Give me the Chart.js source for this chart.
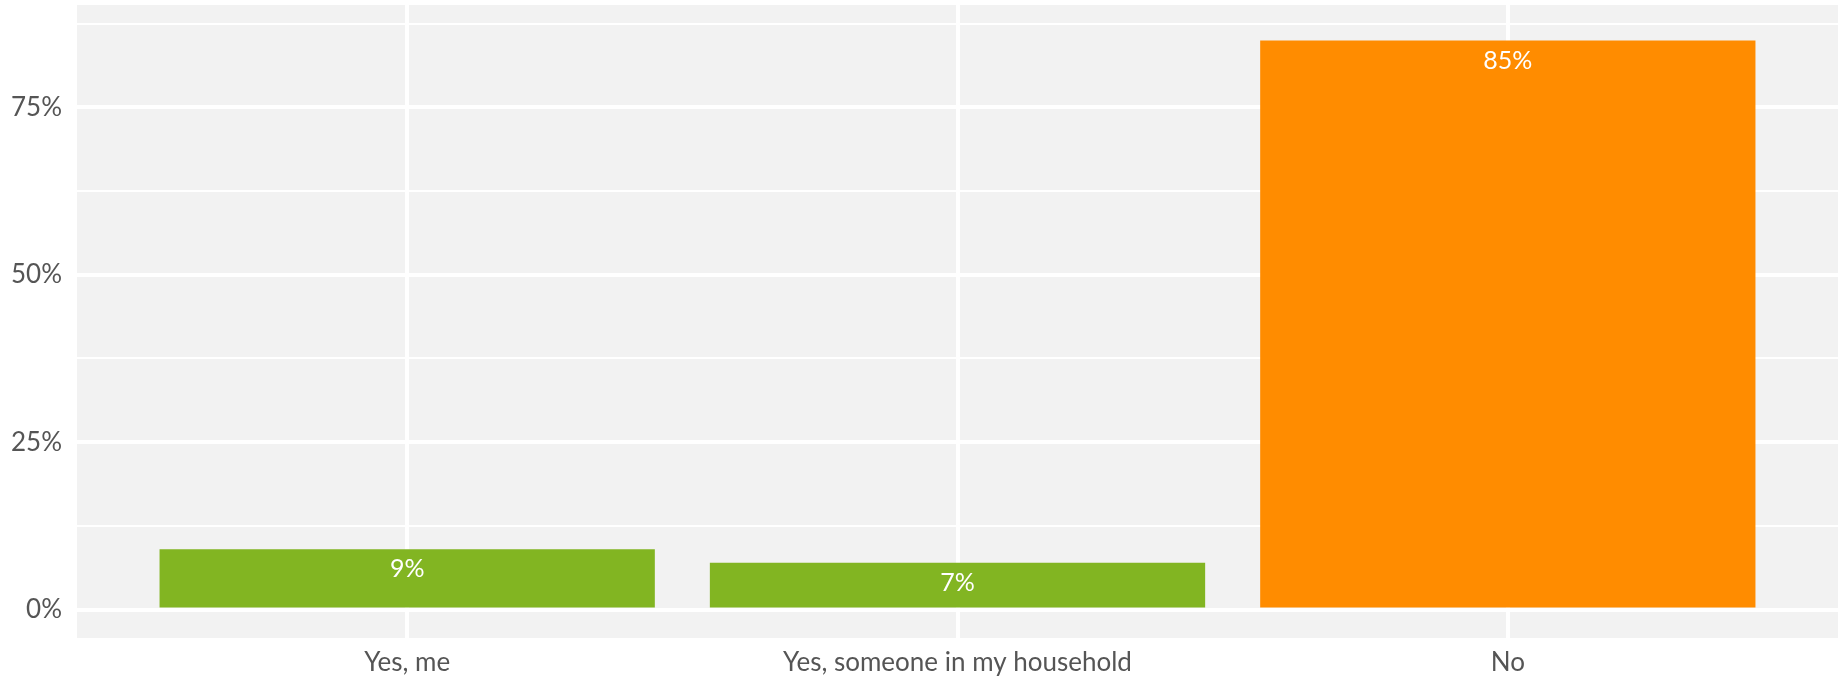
<!DOCTYPE html>
<html>
<head>
<meta charset="utf-8">
<script src="https://cdn.jsdelivr.net/npm/chart.js@4.4.1/dist/chart.umd.min.js"></script>
<style>
  html, body { margin: 0; padding: 0; background: #fff; }
  #wrap { width: 1843px; height: 679px; }
</style>
</head>
<body>
<div id="wrap"><canvas id="answerChart"></canvas></div>
<script>
const categories = ['Yes, me', 'Yes, someone in my household', 'No'];
const shares = [9, 7, 85];
const barColors = ['#82b522', '#82b522', '#ff8c00'];
const gridValues = [0, 12.5, 25, 37.5, 50, 62.5, 75, 87.5];
const labelledValues = [0, 25, 50, 75];

// grey panel behind the plot, ggplot style
const panelBg = {
  id: 'panelBg',
  beforeDraw(chart) {
    const { ctx, chartArea: a } = chart;
    ctx.save();
    ctx.fillStyle = '#f2f2f2';
    ctx.fillRect(a.left, a.top, a.right - a.left, a.bottom - a.top);
    ctx.restore();
  }
};

// white percentage labels just inside the bar tops
const barLabels = {
  id: 'barLabels',
  afterDatasetsDraw(chart) {
    const ctx = chart.ctx;
    const meta = chart.getDatasetMeta(0);
    ctx.save();
    ctx.fillStyle = '#ffffff';
    ctx.font = '400 25px Lato';
    ctx.textAlign = 'center';
    ctx.textBaseline = 'middle';
    meta.data.forEach((bar, i) => {
      ctx.fillText(shares[i] + '%', bar.x, bar.y + 20);
    });
    ctx.restore();
  }
};

const ctx = document.getElementById('answerChart').getContext('2d');

new Chart(ctx, {
  type: 'bar',
  data: {
    datasets: [{
      data: shares.map((v, i) => ({ x: i + 1, y: v })),
      backgroundColor: barColors,
      borderWidth: 0,
      categoryPercentage: 0.9,
      barPercentage: 1
    }]
  },
  options: {
    responsive: true,
    maintainAspectRatio: false,
    animation: false,
    layout: { padding: { top: 5, right: 5, left: 0, bottom: 0 } },
    plugins: {
      legend: { display: false },
      tooltip: { enabled: false }
    },
    scales: {
      x: {
        type: 'linear',
        min: 0.4,
        max: 3.6,
        offset: false,
        afterBuildTicks(scale) {
          scale.ticks = categories.map((c, i) => ({ value: i + 1 }));
        },
        afterFit(scale) {
          scale.height = 41;
          scale.paddingLeft = 0;
          scale.paddingRight = 0;
        },
        grid: { color: '#ffffff', lineWidth: 4, drawTicks: false, offset: false },
        border: { display: false },
        ticks: {
          autoSkip: false,
          maxRotation: 0,
          padding: 9,
          color: '#555555',
          font: { family: 'Lato', size: 26 },
          callback: (v) => categories[v - 1] || ''
        }
      },
      y: {
        min: -4.25,
        max: 90.3,
        afterBuildTicks(scale) {
          scale.ticks = gridValues.map(v => ({ value: v }));
        },
        afterFit(scale) {
          scale.width = 77;
          scale.paddingTop = 0;
          scale.paddingBottom = 0;
        },
        grid: {
          color: '#ffffff',
          lineWidth: (c) => (labelledValues.includes(c.tick.value) ? 4 : 2),
          drawTicks: false
        },
        border: { display: false },
        ticks: {
          autoSkip: false,
          padding: 15,
          color: '#555555',
          font: { family: 'Lato', size: 26 },
          callback: (v) => (labelledValues.includes(v) ? v + '%' : '')
        }
      }
    }
  },
  plugins: [panelBg, barLabels]
});
</script>
</body>
</html>
